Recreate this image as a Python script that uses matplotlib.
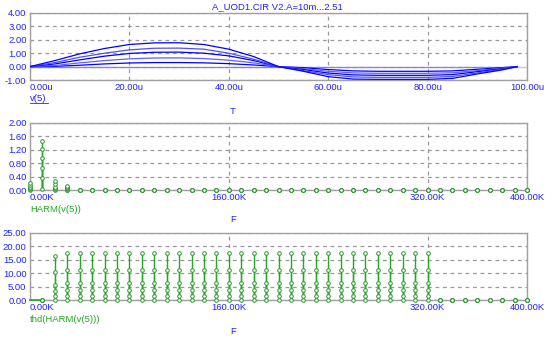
import matplotlib
matplotlib.use("Agg")
import matplotlib.pyplot as plt

plt.rcParams['font.family'] = ['Liberation Sans', 'DejaVu Sans']

# ---------------- data ----------------
title_text = "A_UOD1.CIR V2.A=10m...2.51"

# transient v(5): one curve per sweep step (time in microseconds)
t_us = [0, 5, 10, 15, 20, 25, 30, 35, 40, 45, 50,
        55, 60, 65, 70, 75, 80, 85, 90, 95, 98]
v5_curves = [
    [0.0, 0.0, 0.0, 0.0, 0.0, 0.0, 0.0, 0.0, 0.0, 0.0, 0.0,
     0.0, 0.0, 0.0, 0.0, 0.0, 0.0, 0.0, 0.0, 0.0, 0.0],
    [0.0, 0.02, 0.1, 0.2, 0.27, 0.3, 0.3, 0.28, 0.22, 0.12, 0.0,
     -0.08, -0.22, -0.32, -0.35, -0.35, -0.35, -0.32, -0.2, -0.08, 0.0],
    [0.0, 0.08, 0.28, 0.45, 0.58, 0.64, 0.65, 0.6, 0.48, 0.28, 0.0,
     -0.15, -0.35, -0.47, -0.5, -0.5, -0.5, -0.46, -0.3, -0.12, 0.0],
    [0.0, 0.2, 0.5, 0.78, 0.98, 1.07, 1.08, 1.0, 0.8, 0.45, 0.0,
     -0.22, -0.48, -0.62, -0.65, -0.65, -0.65, -0.6, -0.38, -0.16, 0.0],
    [0.0, 0.3, 0.7, 1.0, 1.25, 1.37, 1.38, 1.3, 1.0, 0.55, 0.0,
     -0.3, -0.6, -0.77, -0.8, -0.8, -0.8, -0.74, -0.47, -0.2, 0.0],
    [0.0, 0.45, 0.95, 1.35, 1.65, 1.77, 1.78, 1.65, 1.3, 0.75, 0.0,
     -0.35, -0.75, -0.93, -0.95, -0.95, -0.95, -0.88, -0.55, -0.25, 0.0],
]

# harmonic frequencies (kHz)
freq_k = list(range(0, 401, 10))
# HARM(v(5)) non-zero components per sweep step: DC, 10K, 20K, 30K
harm_dc = [0.0, 0.02, 0.06, 0.1, 0.15, 0.2]
harm_10k = [0.03, 0.37, 0.67, 0.96, 1.22, 1.45]
harm_20k = [0.0, 0.02, 0.05, 0.1, 0.18, 0.27]
harm_30k = [0.0, 0.01, 0.02, 0.05, 0.08, 0.13]

# thd(HARM(v(5))) per sweep step
thd_20k = [0.0, 1.5, 3.4, 5.75, 10.4, 16.5]
thd_flat = [0.0, 1.5, 3.75, 6.25, 11.25, 17.5]   # 30K .. 320K
thd_last_k = 320

t_ticks = [0, 20, 40, 60, 80, 100]
t_tick_labels = ["0.00u", "20.00u", "40.00u", "60.00u", "80.00u", "100.00u"]
f_ticks = [0, 160, 320, 400]
f_tick_labels = ["0.00K", "160.00K", "320.00K", "400.00K"]
v_ticks = [-1, 0, 1, 2, 3, 4]
harm_ticks = [0, 0.4, 0.8, 1.2, 1.6, 2.0]
thd_ticks = [0, 5, 10, 15, 20, 25]

# ---------------- styling ----------------
BLUE_TXT = '#2222ff'
GREEN_TXT = '#22aa22'
blue_cols = ['#8080ff', '#0000ff', '#6060ff', '#0000ee', '#5050ff', '#0000ff']
green_cols = ['#58c058', '#22a822', '#58c058', '#22a822', '#58c058', '#22a822']
FS = 6.8
MS = 2.6

fig = plt.figure(figsize=(5.53, 3.42), dpi=100)
W, H = 553.0, 342.0


def make_axes(top_px, bottom_px):
    return fig.add_axes([30 / W, 1 - bottom_px / H, 497 / W, (bottom_px - top_px) / H])


def style(ax, xt, xtl, yt, ytl):
    ax.set_xticks(xt)
    ax.set_xticklabels(xtl)
    ax.set_yticks(yt)
    ax.set_yticklabels(ytl)
    ax.tick_params(length=0, labelsize=FS, labelcolor=BLUE_TXT, pad=2.5)
    ax.get_xticklabels()[0].set_ha('left')
    ax.grid(True, color='#999999', linestyle=(0, (3, 3)), linewidth=0.9)
    ax.set_axisbelow(True)
    for s in ax.spines.values():
        s.set_color('#a0a0a0')
        s.set_linewidth(1.0)
    ax.set_facecolor('white')


def thd_values(i, freqs):
    ys = []
    for f in freqs:
        if f == 10:
            ys.append(0.0)
        elif f == 20:
            ys.append(thd_20k[i])
        elif f <= thd_last_k:
            ys.append(thd_flat[i])
        else:
            ys.append(0.0)
    return ys


def harm_values(i, freqs):
    vals = {0: harm_dc[i], 10: harm_10k[i], 20: harm_20k[i], 30: harm_30k[i]}
    return [vals.get(f, 0.0) for f in freqs]


# ---- panel 1 ----
ax1 = make_axes(13, 80)
ax1.axhline(0, color='#c8c8c8', lw=0.8, zorder=1)
for i, v in enumerate(v5_curves):
    ax1.plot(t_us, v, color=blue_cols[i], lw=0.9, zorder=3)
ax1.set_xlim(0, 100)
ax1.set_ylim(-1, 4)
style(ax1, t_ticks, t_tick_labels, v_ticks, ["%.2f" % v for v in v_ticks])
fig.text(277 / W, 1 - 7 / H, title_text, ha='center', va='center', fontsize=FS, color=BLUE_TXT)
fig.text(30 / W, 1 - 98.5 / H, "v(5)", ha='left', va='center', fontsize=FS, color=BLUE_TXT)
fig.add_artist(plt.Line2D([30 / W, 48 / W], [1 - 102.5 / H, 1 - 102.5 / H], color=BLUE_TXT, lw=0.6))
fig.text(233 / W, 1 - 111 / H, "T", ha='center', va='center', fontsize=FS, color=BLUE_TXT)

# ---- panel 2 ----
ax2 = make_axes(123, 190)
for i in range(len(harm_10k)):
    ax2.vlines(freq_k, 0, harm_values(i, freq_k), color=green_cols[i], lw=1.0, zorder=3)
for i in range(len(harm_10k)):
    ax2.plot(freq_k, harm_values(i, freq_k), linestyle='none', marker='o', ms=MS, mfc='white',
             mec='#2a9a2a', mew=0.7, zorder=4, clip_on=False)
ax2.set_xlim(0, 400)
ax2.set_ylim(0, 2)
style(ax2, f_ticks, f_tick_labels, harm_ticks, ["%.2f" % v for v in harm_ticks])
fig.text(30 / W, 1 - 209 / H, "HARM(v(5))", ha='left', va='center', fontsize=FS, color=GREEN_TXT)
fig.text(233 / W, 1 - 220 / H, "F", ha='center', va='center', fontsize=FS, color=BLUE_TXT)

# ---- panel 3 ----
ax3 = make_axes(233, 300)
ax3.plot([0, 10], [0, 0], color='#22a822', lw=1.2, zorder=3, clip_on=False)
thd_freqs = [f for f in freq_k if f >= 10]
for i in range(len(thd_flat)):
    ax3.vlines(thd_freqs, 0, thd_values(i, thd_freqs), color=green_cols[i], lw=1.0, zorder=3)
for i in range(len(thd_flat)):
    ax3.plot(thd_freqs, thd_values(i, thd_freqs), linestyle='none', marker='o', ms=MS, mfc='white',
             mec='#2a9a2a', mew=0.7, zorder=4, clip_on=False)
ax3.set_xlim(0, 400)
ax3.set_ylim(0, 25)
style(ax3, f_ticks, f_tick_labels, thd_ticks, ["%.2f" % v for v in thd_ticks])
fig.text(30 / W, 1 - 320 / H, "thd(HARM(v(5)))", ha='left', va='center', fontsize=FS, color=GREEN_TXT)
fig.text(233 / W, 1 - 332 / H, "F", ha='center', va='center', fontsize=FS, color=BLUE_TXT)

fig.savefig("out.png", dpi=100, facecolor='white')
